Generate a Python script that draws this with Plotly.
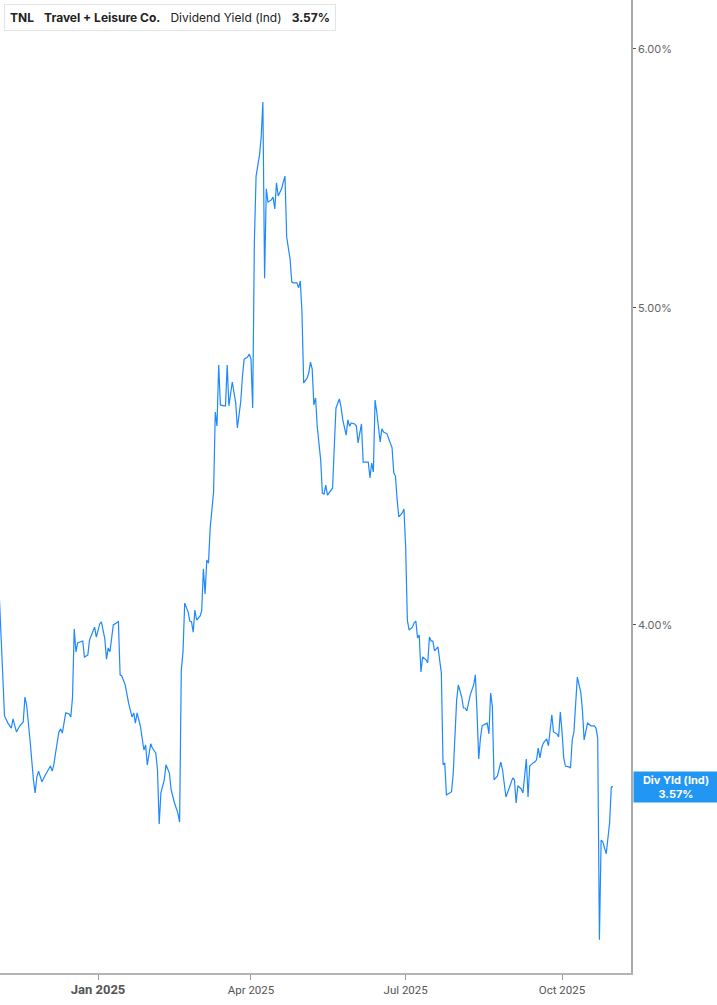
import numpy as np
import plotly.graph_objects as go

dates = [
"2024-11-04","2024-11-06","2024-11-07","2024-11-09","2024-11-11","2024-11-12","2024-11-14","2024-11-16","2024-11-18","2024-11-19",
"2024-11-20","2024-11-22","2024-11-23","2024-11-24","2024-11-25","2024-11-26","2024-11-27","2024-11-29","2024-12-01","2024-12-03",
"2024-12-04","2024-12-05","2024-12-06","2024-12-07","2024-12-09","2024-12-10","2024-12-11","2024-12-13","2024-12-15","2024-12-16",
"2024-12-17","2024-12-18","2024-12-19","2024-12-20","2024-12-21","2024-12-23","2024-12-24","2024-12-26","2024-12-27","2024-12-29",
"2024-12-30","2024-12-31","2025-01-02","2025-01-03","2025-01-05","2025-01-06","2025-01-07","2025-01-08","2025-01-09","2025-01-10",
"2025-01-12","2025-01-13","2025-01-14","2025-01-15","2025-01-17","2025-01-19","2025-01-21","2025-01-22","2025-01-23","2025-01-24",
"2025-01-26","2025-01-27","2025-01-28","2025-01-29","2025-01-30","2025-02-01","2025-02-02","2025-02-04","2025-02-05","2025-02-06",
"2025-02-07","2025-02-09","2025-02-10","2025-02-12","2025-02-13","2025-02-15","2025-02-17","2025-02-18","2025-02-19","2025-02-20",
"2025-02-21","2025-02-23","2025-02-24","2025-02-25","2025-02-26","2025-02-27","2025-02-28","2025-03-02","2025-03-03","2025-03-04",
"2025-03-05","2025-03-06","2025-03-07","2025-03-08","2025-03-10","2025-03-11","2025-03-12","2025-03-13","2025-03-14","2025-03-16",
"2025-03-17","2025-03-18","2025-03-19","2025-03-21","2025-03-23","2025-03-24","2025-03-26","2025-03-27","2025-03-28","2025-03-30",
"2025-03-31","2025-04-01","2025-04-02","2025-04-03","2025-04-04","2025-04-06","2025-04-07","2025-04-08","2025-04-09","2025-04-10",
"2025-04-11","2025-04-13","2025-04-14","2025-04-15","2025-04-16","2025-04-17","2025-04-19","2025-04-20","2025-04-21","2025-04-22",
"2025-04-24","2025-04-25","2025-04-26","2025-04-28","2025-04-29","2025-04-30","2025-05-01","2025-05-02","2025-05-04","2025-05-05",
"2025-05-06","2025-05-07","2025-05-08","2025-05-09","2025-05-10","2025-05-12","2025-05-13","2025-05-14","2025-05-15","2025-05-16",
"2025-05-18","2025-05-19","2025-05-20","2025-05-21","2025-05-23","2025-05-24","2025-05-25","2025-05-27","2025-05-28","2025-05-29",
"2025-05-30","2025-06-01","2025-06-02","2025-06-03","2025-06-05","2025-06-06","2025-06-08","2025-06-09","2025-06-10","2025-06-11",
"2025-06-12","2025-06-13","2025-06-14","2025-06-16","2025-06-17","2025-06-18","2025-06-20","2025-06-22","2025-06-23","2025-06-24",
"2025-06-25","2025-06-26","2025-06-27","2025-06-29","2025-06-30","2025-07-01","2025-07-02","2025-07-03","2025-07-05","2025-07-06",
"2025-07-07","2025-07-08","2025-07-09","2025-07-10","2025-07-11","2025-07-13","2025-07-14","2025-07-15","2025-07-16","2025-07-17",
"2025-07-18","2025-07-19","2025-07-20","2025-07-21","2025-07-22","2025-07-23","2025-07-24","2025-07-25","2025-07-27","2025-07-28",
"2025-07-29","2025-07-30","2025-07-31","2025-08-01","2025-08-03","2025-08-04","2025-08-05","2025-08-06","2025-08-07","2025-08-08",
"2025-08-10","2025-08-11","2025-08-12","2025-08-13","2025-08-14","2025-08-15","2025-08-17","2025-08-18","2025-08-19","2025-08-20",
"2025-08-21","2025-08-22","2025-08-24","2025-08-25","2025-08-26","2025-08-27","2025-08-29","2025-08-31","2025-09-02","2025-09-03",
"2025-09-04","2025-09-05","2025-09-07","2025-09-08","2025-09-10","2025-09-11","2025-09-12","2025-09-14","2025-09-15","2025-09-16",
"2025-09-17","2025-09-18","2025-09-19","2025-09-20","2025-09-22","2025-09-23","2025-09-25","2025-09-26","2025-09-28","2025-09-29",
"2025-09-30","2025-10-01","2025-10-02","2025-10-03","2025-10-05","2025-10-06","2025-10-07","2025-10-08","2025-10-09","2025-10-10",
"2025-10-12","2025-10-13","2025-10-14","2025-10-15","2025-10-16","2025-10-18","2025-10-20","2025-10-21","2025-10-22","2025-10-23",
"2025-10-24","2025-10-25","2025-10-26","2025-10-27","2025-10-29","2025-10-30","2025-10-31",
]

div_yield = [
4.074,3.821,3.752,3.733,3.720,3.744,3.710,3.726,3.736,3.802,
3.781,3.689,3.630,3.587,3.554,3.594,3.609,3.582,3.599,3.617,
3.622,3.609,3.625,3.655,3.710,3.718,3.707,3.760,3.757,3.749,
3.802,3.989,3.925,3.950,3.952,3.955,3.911,3.916,3.958,3.980,
3.994,3.966,4.003,4.009,3.961,3.905,3.936,3.925,3.969,4.000,
4.006,4.011,3.862,3.859,3.835,3.786,3.749,3.760,3.733,3.760,
3.723,3.694,3.663,3.676,3.625,3.679,3.668,3.655,3.612,3.477,
3.554,3.587,3.625,3.604,3.562,3.529,3.504,3.482,3.875,3.925,
4.062,4.037,4.011,4.009,3.980,4.042,4.014,4.025,4.040,4.161,
4.088,4.187,4.178,4.283,4.392,4.647,4.601,4.803,4.670,4.667,
4.667,4.803,4.667,4.746,4.677,4.595,4.683,4.766,4.823,4.830,
4.840,4.823,4.660,5.241,5.486,5.568,5.639,5.780,5.106,5.437,
5.387,5.395,5.406,5.361,5.460,5.410,5.437,5.463,5.486,5.256,
5.175,5.092,5.089,5.089,5.071,5.096,4.986,4.743,4.759,4.776,
4.813,4.790,4.670,4.693,4.598,4.493,4.389,4.386,4.414,4.383,
4.396,4.405,4.534,4.660,4.690,4.663,4.621,4.572,4.621,4.601,
4.611,4.608,4.601,4.547,4.608,4.486,4.486,4.486,4.436,4.483,
4.455,4.686,4.647,4.550,4.592,4.582,4.576,4.550,4.531,4.452,
4.442,4.368,4.316,4.328,4.340,4.226,4.014,3.986,3.994,4.006,
4.011,3.964,3.972,3.870,3.911,3.903,3.895,3.966,3.955,3.955,
3.928,3.933,3.939,3.903,3.867,3.625,3.630,3.549,3.554,3.557,
3.604,3.715,3.794,3.835,3.802,3.773,3.773,3.765,3.789,3.808,
3.835,3.862,3.760,3.640,3.694,3.726,3.731,3.733,3.705,3.813,
3.778,3.587,3.597,3.612,3.632,3.612,3.544,3.567,3.592,3.587,
3.529,3.572,3.564,3.554,3.640,3.544,3.622,3.630,3.632,3.638,
3.668,3.643,3.668,3.681,3.692,3.674,3.755,3.710,3.705,3.697,
3.762,3.710,3.643,3.622,3.620,3.617,3.689,3.710,3.776,3.856,
3.816,3.768,3.689,3.715,3.733,3.726,3.726,3.720,3.694,3.205,
3.438,3.434,3.422,3.405,3.480,3.569,3.570,
]

y_ticks = [4, 5, 6]
y_tick_text = ["4.00%", "5.00%", "6.00%"]
x_ticks = ["2025-01-01", "2025-04-01", "2025-07-01", "2025-10-01"]
x_tick_text = ["<span style='font-size:13px'><b>Jan 2025</b></span>",
               "Apr 2025", "Jul 2025", "Oct 2025"]

ticker = "TNL"
company = "Travel + Leisure Co."
metric = "Dividend Yield (Ind)"
last_label = "Div Yld (Ind)"

LINE = "#1E88FF"
W, H = 717, 1005
ML, MR, MT, MB = 0, 86, 0, 32
PW, PH = W - ML - MR, H - MT - MB

fig = go.Figure()
fig.add_trace(go.Scatter(x=dates, y=div_yield, mode="lines",
                         line=dict(color=LINE, width=1.2), hoverinfo="skip",
                         showlegend=False))

last = div_yield[-1]

fig.update_layout(
    width=W, height=H,
    margin=dict(l=ML, r=MR, t=MT, b=MB),
    paper_bgcolor="white", plot_bgcolor="white",
    font=dict(family="Roboto, Inter, sans-serif", color="#555"),
    xaxis=dict(
        type="date",
        range=["2024-11-04 08:00", "2025-11-10 14:00"],
        tickvals=x_ticks, ticktext=x_tick_text,
        ticks="outside", ticklen=5, tickcolor="#999", tickwidth=1,
        showline=True, linecolor="#b5b5b5", linewidth=2,
        showgrid=False, zeroline=False,
        tickfont=dict(size=11.5, color="#555", family="Roboto"),
    ),
    yaxis=dict(
        type="log", side="right",
        range=[np.log10(3.131), np.log10(6.21)],
        tickvals=y_ticks, ticktext=y_tick_text,
        ticks="outside", ticklen=3, tickcolor="#555", tickwidth=1,
        showline=True, linecolor="#aaaaaa", linewidth=1.5,
        showgrid=False, zeroline=False,
        tickfont=dict(size=11, color="#666", family="Inter"),
    ),
)

# header box
sp = "\u00a0\u00a0\u00a0"
fig.add_annotation(
    xref="paper", yref="paper", x=4 / PW, y=1 - 4 / PH,
    xanchor="left", yanchor="top", showarrow=False, align="left",
    text=f"<b>{ticker}</b>{sp}<b>{company}</b>{sp}{metric}{sp}<b>{last:.2f}%</b>",
    font=dict(family="Inter", size=12, color="#222"),
    bgcolor="white", bordercolor="#e4e4e4", borderwidth=1, borderpad=5,
)
fig.add_shape(type="rect", xref="paper", yref="paper",
              x0=4 / PW, x1=7 / PW, y0=1 - 30 / PH, y1=1 - 5 / PH,
              fillcolor=LINE, line=dict(width=0), layer="above")

# last value label
fig.add_annotation(
    xref="paper", yref="y", x=1, y=np.log10(last),
    xanchor="left", yanchor="middle", xshift=2, showarrow=False,
    text=f"<b>{last_label}</b><br><b>{last:.2f}%</b>",
    font=dict(family="Inter", size=11, color="white"),
    bgcolor="#2196F3", borderpad=1, width=82, align="center",
)

fig.write_html("out.html", config={"displayModeBar": False},
               post_script="document.body.style.margin='0';document.body.style.padding='0';")
